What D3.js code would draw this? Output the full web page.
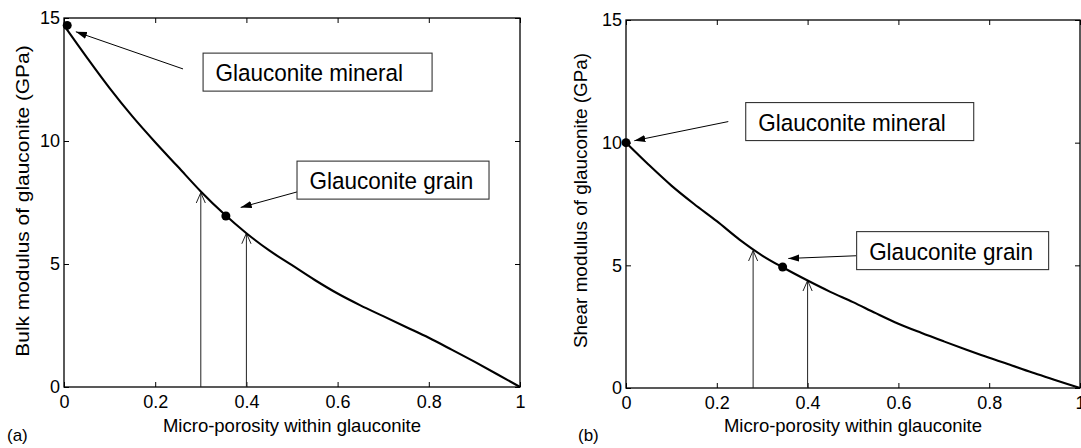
<!DOCTYPE html>
<html>
<head>
<meta charset="utf-8">
<script src="https://cdn.jsdelivr.net/npm/d3@7"></script>
<style>
  body { margin: 0; background: #fff; }
  svg { display: block; }
  text { font-family: "Liberation Sans", Arial, Helvetica, sans-serif; fill: #000; }
</style>
</head>
<body>
<svg id="fig" width="1081" height="448"></svg>
<script>
// Micro-porosity grid and the moduli of glauconite along it (GPa)
const porosity     = [0, 0.05, 0.10, 0.15, 0.20, 0.25, 0.30, 0.35, 0.40, 0.45, 0.50,
                      0.55, 0.60, 0.65, 0.70, 0.75, 0.80, 0.85, 0.90, 0.95, 1.00];
const bulkModulus  = [14.7, 13.4, 12.15, 11.0, 9.95, 8.95, 7.95, 7.05, 6.25, 5.55, 4.95,
                      4.35, 3.8, 3.32, 2.88, 2.44, 2.0, 1.52, 1.03, 0.52, 0];
const shearModulus = [10.0, 9.1, 8.25, 7.5, 6.8, 6.05, 5.4, 4.87, 4.38, 3.92, 3.5,
                      3.05, 2.62, 2.25, 1.9, 1.56, 1.23, 0.92, 0.6, 0.3, 0];

const xTickValues = [0, 0.2, 0.4, 0.6, 0.8, 1];
const yTickValues = [0, 5, 10, 15];

// Marked points: [porosity, modulus]
const bulkMineral  = [0.007, 14.7];
const bulkGrain    = [0.355, 6.95];
const shearMineral = [0, 10];
const shearGrain   = [0.345, 4.93];

// Vertical arrows rising from the porosity axis to the curve
const bulkArrowPorosity  = [0.30, 0.40];
const bulkArrowModulus   = [7.9, 6.25];
const shearArrowPorosity = [0.28, 0.40];
const shearArrowModulus  = [5.6, 4.38];

const mineralText = "Glauconite mineral";
const grainText   = "Glauconite grain";
const xAxisTitle  = "Micro-porosity within glauconite";

const svg = d3.select("#fig");

// arrowhead markers
const defs = svg.append("defs");
defs.append("marker")
  .attr("id", "solidHead")
  .attr("viewBox", "0 -5 12 10")
  .attr("refX", 11).attr("refY", 0)
  .attr("markerWidth", 12).attr("markerHeight", 10)
  .attr("markerUnits", "userSpaceOnUse")
  .attr("orient", "auto")
  .append("path")
  .attr("d", "M0,-3.6L11,0L0,3.6Z")
  .attr("fill", "#000");
defs.append("marker")
  .attr("id", "openHead")
  .attr("viewBox", "0 -6 12 12")
  .attr("refX", 10.5).attr("refY", 0)
  .attr("markerWidth", 12).attr("markerHeight", 12)
  .attr("markerUnits", "userSpaceOnUse")
  .attr("orient", "auto")
  .append("path")
  .attr("d", "M0,-4.6L10.5,0L0,4.6")
  .attr("fill", "none")
  .attr("stroke", "#222")
  .attr("stroke-width", 1);

const panels = [
  {
    left: 64, right: 520, top: 18, bottom: 387,
    values: bulkModulus,
    mineral: bulkMineral, grain: bulkGrain,
    arrowX: bulkArrowPorosity, arrowY: bulkArrowModulus,
    yTitle: "Bulk modulus of glauconite (GPa)", yTitleX: 29, yTitleY: 201, yTitleSize: 19, yTitleStretch: 1.1,
    tag: "(a)", tagX: 7,
    mineralBox: { x: 0.305, y: 12.8, w: 229 },
    mineralArrow: { from: [0.261, 12.93], to: [0.026, 14.44] },
    grainBox: { x: 0.511, y: 8.41, w: 192 },
    grainArrow: { from: [0.511, 7.93], to: [0.3875, 7.30] }
  },
  {
    left: 626, right: 1080, top: 20, bottom: 388,
    values: shearModulus,
    mineral: shearMineral, grain: shearGrain,
    arrowX: shearArrowPorosity, arrowY: shearArrowModulus,
    yTitle: "Shear modulus of glauconite (GPa)", yTitleX: 587, yTitleY: 200.5, yTitleSize: 17.5, yTitleStretch: 1.08,
    tag: "(b)", tagX: 578,
    mineralBox: { x: 0.2637, y: 10.86, w: 228 },
    mineralArrow: { from: [0.2253, 10.86], to: [0.0183, 10.08] },
    grainBox: { x: 0.508, y: 5.6, w: 192 },
    grainArrow: { from: [0.5066, 5.39], to: [0.3575, 5.28] }
  }
];

panels.forEach(p => {
  const x = d3.scaleLinear().domain([0, 1]).range([p.left, p.right]);
  const y = d3.scaleLinear().domain([0, 15]).range([p.bottom, p.top]);
  const g = svg.append("g");

  // inward ticks on all four sides
  const bottomAxis = d3.axisBottom(x).tickValues(xTickValues)
    .tickFormat(d3.format("~g")).tickSizeInner(-5).tickSizeOuter(0).tickPadding(8.5);
  const topAxis = d3.axisTop(x).tickValues(xTickValues)
    .tickFormat("").tickSizeInner(-5).tickSizeOuter(0);
  const leftAxis = d3.axisLeft(y).tickValues(yTickValues)
    .tickFormat(d3.format("~g")).tickSizeInner(-5).tickSizeOuter(0).tickPadding(4);
  const rightAxis = d3.axisRight(y).tickValues(yTickValues)
    .tickFormat("").tickSizeInner(-5).tickSizeOuter(0);

  const axes = [
    [bottomAxis, `translate(0,${p.bottom})`],
    [topAxis, `translate(0,${p.top})`],
    [leftAxis, `translate(${p.left},0)`],
    [rightAxis, `translate(${p.right},0)`]
  ];
  axes.forEach(([ax, tr]) => {
    const a = g.append("g").attr("transform", tr).call(ax);
    a.select(".domain").remove();
    a.selectAll(".tick line").attr("stroke", "#000").attr("stroke-width", 1);
    a.selectAll(".tick text")
      .attr("fill", "#000")
      .style("font-size", "18px")
      .style("font-family", "'Liberation Sans', Arial, sans-serif");
  });

  // frame
  g.append("rect")
    .attr("x", p.left).attr("y", p.top)
    .attr("width", p.right - p.left).attr("height", p.bottom - p.top)
    .attr("fill", "none").attr("stroke", "#000").attr("stroke-width", 1.3);

  // vertical arrows
  p.arrowX.forEach((px, i) => {
    g.append("line")
      .attr("x1", x(px)).attr("y1", y(0))
      .attr("x2", x(px)).attr("y2", y(p.arrowY[i]))
      .attr("stroke", "#222").attr("stroke-width", 1)
      .attr("marker-end", "url(#openHead)");
  });

  // modulus curve
  const line = d3.line()
    .x((d, i) => x(porosity[i]))
    .y(d => y(d))
    .curve(d3.curveMonotoneX);
  g.append("path")
    .datum(p.values)
    .attr("d", line)
    .attr("fill", "none")
    .attr("stroke", "#000")
    .attr("stroke-width", 2.1)
    .attr("stroke-linejoin", "round");

  // marked points
  [p.mineral, p.grain].forEach(pt => {
    g.append("circle")
      .attr("cx", x(pt[0])).attr("cy", y(pt[1]))
      .attr("r", 4.5).attr("fill", "#000");
  });

  // labelled boxes with pointer arrows
  const boxH = 38;
  const drawBox = (box, text) => {
    const bx = x(box.x), cy = y(box.y);
    g.append("rect")
      .attr("x", bx).attr("y", cy - boxH / 2)
      .attr("width", box.w).attr("height", boxH)
      .attr("fill", "#fff").attr("stroke", "#333").attr("stroke-width", 1.1);
    g.append("text")
      .attr("transform", `translate(${bx + 12.5},${cy + 9}) scale(1,1.08)`)
      .style("font-size", "22.5px")
      .text(text);
  };
  const drawPointer = arr => {
    g.append("line")
      .attr("x1", x(arr.from[0])).attr("y1", y(arr.from[1]))
      .attr("x2", x(arr.to[0])).attr("y2", y(arr.to[1]))
      .attr("stroke", "#000").attr("stroke-width", 1)
      .attr("marker-end", "url(#solidHead)");
  };
  drawPointer(p.mineralArrow);
  drawPointer(p.grainArrow);
  drawBox(p.mineralBox, mineralText);
  drawBox(p.grainBox, grainText);

  // axis titles
  g.append("text")
    .attr("x", (p.left + p.right) / 2).attr("y", 431.5)
    .attr("text-anchor", "middle")
    .style("font-size", "18.5px")
    .text(xAxisTitle);
  g.append("text")
    .attr("transform", `translate(${p.yTitleX},${p.yTitleY}) rotate(-90) scale(${p.yTitleStretch},1)`)
    .attr("text-anchor", "middle")
    .style("font-size", p.yTitleSize + "px")
    .text(p.yTitle);

  // panel tag
  g.append("text")
    .attr("x", p.tagX).attr("y", 441)
    .style("font-size", "17px")
    .text(p.tag);
});
</script>
</body>
</html>
